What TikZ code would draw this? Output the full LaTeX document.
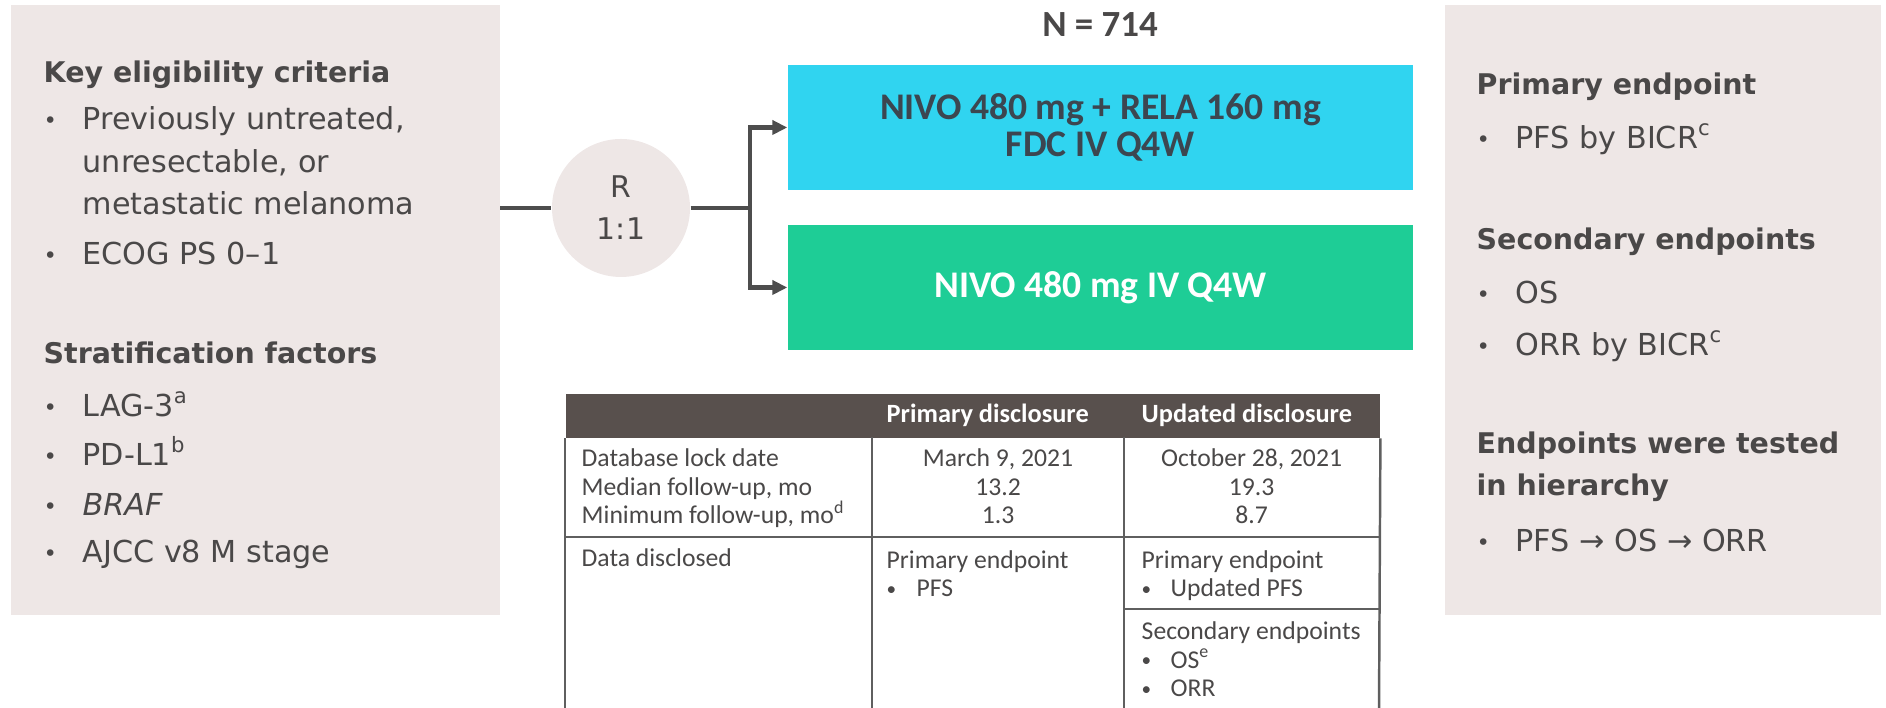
\documentclass[tikz,border=0pt]{standalone}
\usepackage{fontspec}
\setmainfont{DejaVu Sans}
\newfontfamily\narrowfont{Carlito}
\usetikzlibrary{arrows.meta, positioning}

\definecolor{panelbg}{RGB}{238,231,230}
\definecolor{textgray}{RGB}{74,72,72}
\definecolor{linegray}{RGB}{77,77,77}
\definecolor{tblgray}{RGB}{95,95,95}
\definecolor{armcyan}{RGB}{48,212,240}
\definecolor{armgreen}{RGB}{30,205,150}
\definecolor{armtext}{RGB}{60,70,80}
\definecolor{headbrown}{RGB}{88,80,77}

\newcommand{\bul}[1][0.39cm]{\makebox[#1][l]{\raisebox{0.05em}{\scalebox{0.75}{\textbullet}}}}

\begin{document}
\begin{tikzpicture}[
    panel/.style={
        rectangle, fill=panelbg, anchor=south west,
        minimum height=6.10cm, inner sep=0pt
    },
    head/.style={
        anchor=base west, inner sep=0pt, text=textgray, align=left,
        font=\fontsize{8.1}{12.1}\selectfont\bfseries
    },
    item/.style={
        anchor=base west, inner sep=0pt, text=textgray, align=left,
        font=\fontsize{8.6}{12.1}\selectfont
    },
    randc/.style={
        circle, fill=panelbg, minimum size=1.38cm, inner sep=0pt,
        align=center, text=textgray, font=\fontsize{8.5}{12}\selectfont
    },
    arm/.style={
        rectangle, minimum width=6.25cm, minimum height=1.25cm, inner sep=0pt,
        align=center, font=\narrowfont\fontsize{10.7}{10.5}\selectfont\bfseries
    },
    cell/.style={
        anchor=base west, inner sep=0pt, text=textgray, align=left,
        font=\narrowfont\fontsize{7.3}{8.2}\selectfont
    },
    cellc/.style={cell, anchor=base, align=center},
    tblhead/.style={
        rectangle, fill=headbrown, anchor=north west, inner sep=0pt,
        minimum width=8.14cm, minimum height=0.44cm
    },
    tblline/.style={draw=tblgray, line width=0.7pt},
    conn/.style={draw=linegray, line width=1.3pt},
    >={Triangle[length=0.15cm, width=0.14cm]}
]

\useasboundingbox (0,0) rectangle (18.86,7.08);

% side panels (multi-line nodes sit on the baseline of their last line)
\node[panel, minimum width=4.89cm] (elig) at (0.10,0.92) {};
\node[panel, minimum width=4.36cm] (endp) at (14.44,0.92) {};

\node[head] (eligT) at (0.43,6.25) {Key eligibility criteria};
\node[item] (elig1) at (0.43,4.93) {\bul Previously untreated,\\\hspace*{0.39cm}unresectable, or\\\hspace*{0.39cm}metastatic melanoma};
\node[item] (elig2) at (0.43,4.43) {\bul ECOG PS 0–1};

\node[head] (stratT) at (0.43,3.44) {Stratification factors};
\node[item] (strat1) at (0.43,2.91) {\bul LAG-3\textsuperscript{a}};
\node[item] (strat2) at (0.43,2.42) {\bul PD-L1\textsuperscript{b}};
\node[item] (strat3) at (0.43,1.92) {\bul \textit{BRAF}};
\node[item] (strat4) at (0.43,1.45) {\bul AJCC v8 M stage};

\node[head] (primT) at (14.76,6.13) {Primary endpoint};
\node[item] (prim1) at (14.76,5.59) {\bul PFS by BICR\textsuperscript{c}};
\node[head] (secT) at (14.76,4.58) {Secondary endpoints};
\node[item] (sec1) at (14.76,4.04) {\bul OS};
\node[item] (sec2) at (14.76,3.52) {\bul ORR by BICR\textsuperscript{c}};
\node[head] (hierT) at (14.76,2.12) {Endpoints were tested\\in hierarchy};
\node[item] (hier1) at (14.76,1.56) {\bul PFS → OS → ORR};

% randomisation and arms
\node[randc] (rand) at (6.21,5.00) {R\\1:1};
\node[arm, fill=armcyan, text=armtext] (combo) at (11.005,5.805) {NIVO 480 mg + RELA 160 mg\\FDC IV Q4W};
\node[arm, fill=armgreen, text=white] (mono) at (11.005,4.205) {NIVO 480 mg IV Q4W};
\node[anchor=base, text=textgray, font=\narrowfont\fontsize{10.5}{12}\selectfont\bfseries] (ntot) at (11.0,6.71) {N = 714};

\coordinate (split) at (7.50,5.00);
\draw[conn] (elig.east |- rand) -- (rand);
\draw[conn] (rand) -- (split);
\draw[conn, ->] (split) |- (combo.west);
\draw[conn, ->] (split) |- (mono.west);

% disclosure table
\node[tblhead] (thead) at (5.65,3.15) {};
\draw[tblline] (thead.south west) -- (5.65,0);
\draw[tblline] (8.72,2.71) -- (8.72,0);
\draw[tblline] (11.24,2.71) -- (11.24,0);
\draw[tblline] (thead.south east) -- (13.79,0);
\draw[tblline] (5.65,1.71) -- (13.79,1.71);
\draw[tblline] (11.24,0.99) -- (13.79,0.99);

\node[cell, text=white, font=\narrowfont\fontsize{7.5}{8.2}\selectfont\bfseries] (hprim) at (8.86,2.85) {Primary disclosure};
\node[cell, text=white, font=\narrowfont\fontsize{7.5}{8.2}\selectfont\bfseries] (hupd) at (11.41,2.85) {Updated disclosure};

\node[cell] (lockA) at (5.81,1.84) {Database lock date\\Median follow-up, mo\\Minimum follow-up, mo\textsuperscript{d}};
\node[cellc] (lockB) at (9.98,1.84) {March 9, 2021\\13.2\\1.3};
\node[cellc] (lockC) at (12.515,1.84) {October 28, 2021\\19.3\\8.7};

\node[cell] (dataA) at (5.81,1.41) {Data disclosed};
\node[cell] (dataB) at (8.86,1.11) {Primary endpoint\\\bul[0.30cm]PFS};
\node[cell] (dataC) at (11.41,1.11) {Primary endpoint\\\bul[0.29cm]Updated PFS};
\node[cell] (dataD) at (11.41,0.11) {Secondary endpoints\\\bul[0.29cm]OS\textsuperscript{e}\\\bul[0.29cm]ORR};

\end{tikzpicture}
\end{document}
